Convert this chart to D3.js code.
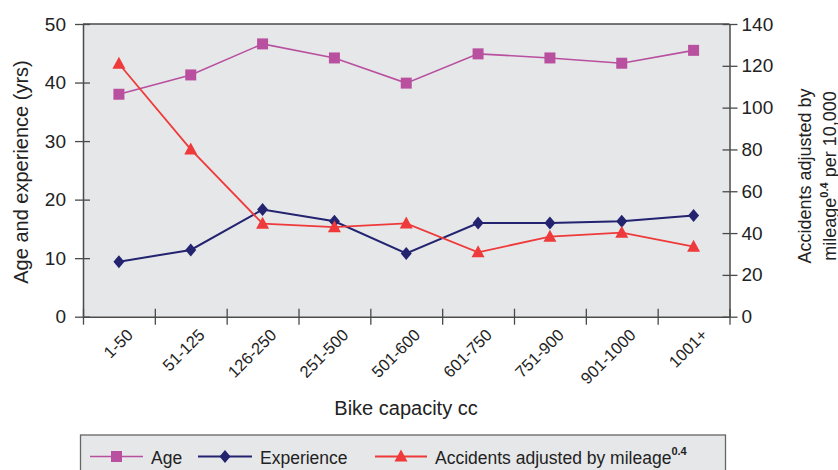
<!DOCTYPE html>
<html>
<head>
<meta charset="utf-8">
<script src="https://cdn.jsdelivr.net/npm/d3@7/dist/d3.min.js"></script>
<style>
  body { margin: 0; background: #fff; }
  svg { font-family: "Liberation Sans", Arial, Helvetica, sans-serif; }
</style>
</head>
<body>
<div id="chart"></div>
<script>
// data
const categories = ["1-50", "51-125", "126-250", "251-500", "501-600", "601-750", "751-900", "901-1000", "1001+"];
const ageValues = [38.0, 41.3, 46.6, 44.2, 39.9, 44.9, 44.2, 43.3, 45.5];
const experienceValues = [9.4, 11.4, 18.3, 16.3, 10.8, 16.0, 16.0, 16.3, 17.3];
const accidentValues = [121, 80, 44.5, 42.8, 44.6, 30.8, 38.3, 40.2, 33.5];
const leftTicks = [0, 10, 20, 30, 40, 50];
const rightTicks = [0, 20, 40, 60, 80, 100, 120, 140];

const svgWidth = 838;
const svgHeight = 470;

const plot = { left: 83, right: 729.5, top: 24, bottom: 316.7 };

const svg = d3.select("#chart")
  .append("svg")
  .attr("width", svgWidth)
  .attr("height", svgHeight);

// scales
const xBand = d3.scaleBand()
  .domain(categories)
  .range([plot.left, plot.right])
  .padding(0);
const xBounds = d3.scaleLinear()
  .domain([0, categories.length])
  .range([plot.left, plot.right]);
const yLeft = d3.scaleLinear().domain([0, 50]).range([plot.bottom, plot.top]);
const yRight = d3.scaleLinear().domain([0, 140]).range([plot.bottom, plot.top]);

const cx = c => xBand(c) + xBand.bandwidth() / 2;

// plot background + top border
svg.append("rect")
  .attr("x", plot.left)
  .attr("y", plot.top)
  .attr("width", plot.right - plot.left)
  .attr("height", plot.bottom - plot.top)
  .attr("fill", "#e6e7e9");

svg.append("line")
  .attr("x1", plot.left).attr("x2", plot.right)
  .attr("y1", plot.top).attr("y2", plot.top)
  .attr("stroke", "#4a4a4a").attr("stroke-width", 1.5);

// axes
const axisColor = "#4a4a4a";

const xAxisG = svg.append("g")
  .attr("transform", `translate(0,${plot.bottom})`)
  .call(d3.axisBottom(xBounds).tickValues(d3.range(categories.length + 1)).tickSize(8).tickSizeOuter(0).tickFormat(""));
xAxisG.selectAll(".tick line").attr("y1", -8);

const leftAxisG = svg.append("g")
  .attr("transform", `translate(${plot.left},0)`)
  .call(d3.axisLeft(yLeft).tickValues(leftTicks).tickSize(8).tickSizeOuter(0).tickPadding(9));
leftAxisG.selectAll(".tick line").attr("x1", 7);

const rightAxisG = svg.append("g")
  .attr("transform", `translate(${plot.right},0)`)
  .call(d3.axisRight(yRight).tickValues(rightTicks).tickSize(8).tickSizeOuter(0).tickPadding(4));
rightAxisG.selectAll(".tick line").attr("x1", -7);

[xAxisG, leftAxisG, rightAxisG].forEach(g => {
  g.select(".domain").attr("stroke", axisColor).attr("stroke-width", 1.5);
  g.selectAll(".tick line").attr("stroke", axisColor).attr("stroke-width", 1.3);
  g.selectAll(".tick text")
    .attr("font-size", "19px")
    .attr("font-family", "Liberation Sans, Arial, sans-serif")
    .attr("fill", "#222");
});

// category labels, rotated
svg.append("g").selectAll("text")
  .data(categories)
  .enter()
  .append("text")
  .attr("transform", d => `translate(${cx(d) + 15},${336}) rotate(-45)`)
  .attr("text-anchor", "end")
  .attr("font-size", "16.5px")
  .attr("fill", "#222")
  .text(d => d);

// axis titles
svg.append("text")
  .attr("transform", `translate(${406},${415})`)
  .attr("text-anchor", "middle")
  .attr("font-size", "20px")
  .attr("fill", "#222")
  .text("Bike capacity cc");

svg.append("text")
  .attr("transform", `translate(${28},${172}) rotate(-90)`)
  .attr("text-anchor", "middle")
  .attr("font-size", "20px")
  .attr("fill", "#222")
  .text("Age and experience (yrs)");

const rTitle = svg.append("text")
  .attr("transform", `translate(${811},${176}) rotate(-90)`)
  .attr("text-anchor", "middle")
  .attr("font-size", "18px")
  .attr("fill", "#222");
rTitle.append("tspan").attr("x", 0).attr("dy", 0).text("Accidents adjusted by");
const rLine2 = rTitle.append("tspan").attr("x", 0).attr("dy", 24.5);
rLine2.append("tspan").text("mileage");
rLine2.append("tspan").attr("font-size", "11px").attr("font-weight", "bold").attr("dy", -8).text("0.4");
rLine2.append("tspan").attr("dy", 8).text(" per 10,000");

// marker shapes
const squarePath = "M-5.5,-5.5h11v11h-11z";
const diamondPath = "M0,-6.5L5.5,0L0,6.5L-5.5,0Z";
const trianglePath = "M0,-7L6.5,5L-6.5,5Z";

const series = [
  { name: "Age", values: ageValues, y: yLeft, color: "#b8509f", width: 1.6, marker: squarePath },
  { name: "Experience", values: experienceValues, y: yLeft, color: "#232370", width: 2, marker: diamondPath },
  { name: "Accidents", values: accidentValues, y: yRight, color: "#ee3a3a", width: 1.8, marker: trianglePath }
];

series.forEach(s => {
  const line = d3.line()
    .x((d, i) => cx(categories[i]))
    .y(d => s.y(d));

  svg.append("path")
    .datum(s.values)
    .attr("d", line)
    .attr("fill", "none")
    .attr("stroke", s.color)
    .attr("stroke-width", s.width);

  svg.append("g").selectAll("path")
    .data(s.values)
    .enter()
    .append("path")
    .attr("d", s.marker)
    .attr("transform", (d, i) => `translate(${cx(categories[i])},${s.y(d)})`)
    .attr("fill", s.color);
});

// legend
const legend = svg.append("g");
legend.append("rect")
  .attr("x", 80.5).attr("y", 435)
  .attr("width", 645).attr("height", 50)
  .attr("fill", "#e6e7e9")
  .attr("stroke", "#666").attr("stroke-width", 1.3);

const legendItems = [
  { s: series[0], x1: 90, x2: 143, text: "Age" },
  { s: series[1], x1: 198, x2: 252, text: "Experience" },
  { s: series[2], x1: 375, x2: 427, text: "Accidents adjusted by mileage", sup: "0.4" }
];
const ly = 456.5;
legendItems.forEach(it => {
  legend.append("line")
    .attr("x1", it.x1).attr("x2", it.x2)
    .attr("y1", ly).attr("y2", ly)
    .attr("stroke", it.s.color).attr("stroke-width", it.s.width);
  legend.append("path")
    .attr("d", it.s.marker)
    .attr("transform", `translate(${(it.x1 + it.x2) / 2},${ly})`)
    .attr("fill", it.s.color);
  const t = legend.append("text")
    .attr("x", it.x2 + 8)
    .attr("y", 463.5)
    .attr("font-size", "17.5px")
    .attr("fill", "#222")
    .text(it.text);
  if (it.sup) {
    t.append("tspan").attr("font-size", "11px").attr("font-weight", "bold").attr("dy", -9).text(it.sup);
  }
});
</script>
</body>
</html>
